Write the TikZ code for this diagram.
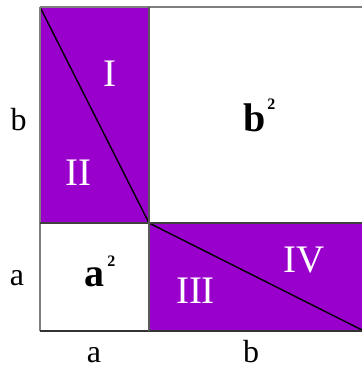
\documentclass[tikz,border=0pt]{standalone}
\usepackage{fontspec}
\setmainfont{Liberation Serif}
\definecolor{violet1}{HTML}{9900CC}
\definecolor{edgegray}{HTML}{7F7F7F}
\begin{document}
\begin{tikzpicture}[x=1pt,y=-1pt,
  roman/.style={text=white,font=\fontsize{39}{39}\selectfont,anchor=base,inner sep=0pt},
  side/.style={text=black,font=\fontsize{32}{32}\selectfont,anchor=base,inner sep=0pt},
  sq/.style={text=black,font=\fontsize{40}{40}\selectfont\bfseries,anchor=base,inner sep=0pt},
  supr/.style={},
  border/.style={draw=edgegray,line width=1.6pt},
  diag/.style={draw=black,line width=1.4pt}]
\useasboundingbox (0,0) rectangle (362,365);
% corners
\coordinate (TL) at (40,7);
\coordinate (TM) at (149,7);
\coordinate (TR) at (364,7);
\coordinate (ML) at (40,223);
\coordinate (M)  at (149,223);
\coordinate (MR) at (364,223);
\coordinate (BL) at (40,331);
\coordinate (BM) at (149,331);
\coordinate (BR) at (364,331);
% regions
\fill[violet1] (TL) rectangle (M);
\fill[violet1] (M) rectangle (BR);
\draw[diag] (TL) -- (M);
\draw[diag] (M) -- (BR);
\draw[border] (TL) -- (TR);
\draw[border] (TL) -- (BL);
\draw[draw=black!80,line width=1.3pt] (BL) -- (BR);
\draw[draw=black!75,line width=1.3pt] (ML) -- (MR);
\draw[draw=black!65,line width=1.3pt] (TM) -- (BM);
% labels
\node[roman] (lI)   at (110,86)  {I};
\node[roman] (lII)  at (78,185)  {II};
\node[roman] (lIII) at (195.5,303) {III};
\node[roman] (lIV)  at (304,272) {IV};
\node[sq] (bsq) at (259.5,131) {b\kern1.5pt\raisebox{22pt}{\fontsize{16}{16}\selectfont\bfseries 2}};
\node[sq] (asq) at (100,286) {a\kern3pt\raisebox{20pt}{\fontsize{16}{16}\selectfont\bfseries 2}};
\node[side] (sb) at (18.5,130) {b};
\node[side] (sa) at (17,285) {a};
\node[side] (ba) at (94,362) {a};
\node[side] (bb) at (251,362) {b};
\end{tikzpicture}
\end{document}
